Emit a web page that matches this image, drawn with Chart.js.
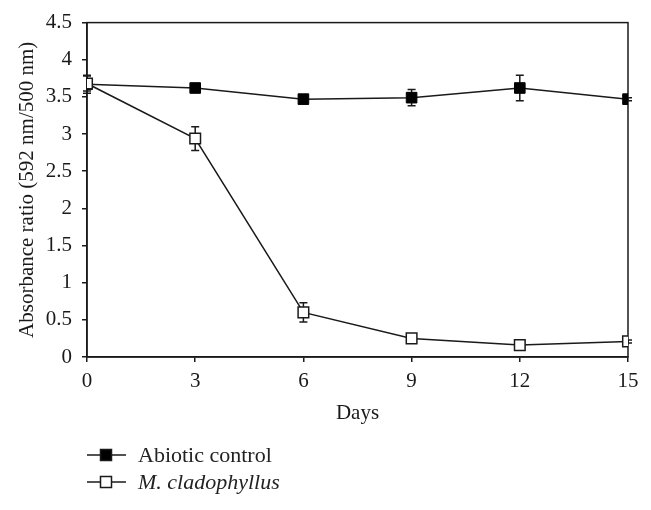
<!DOCTYPE html>
<html>
<head>
<meta charset="utf-8">
<script src="https://cdn.jsdelivr.net/npm/chart.js@4"></script>
<style>
  body { margin: 0; background: #fff; }
  #wrap { position: relative; width: 651px; height: 430px; }
  #legend { position: absolute; left: 87px; top: 441px; font-family: 'Liberation Serif', serif; font-size: 22px; color: #222; }
  .row { height: 27px; display: flex; align-items: center; }
  .row canvas { margin-right: 12px; }
</style>
</head>
<body>
<div id="wrap"><canvas id="days-chart"></canvas></div>
<div id="legend"></div>

<script>
'use strict';

// *************** DATA
let days = [0, 3, 6, 9, 12, 15];
let abioticMean = [3.67, 3.62, 3.47, 3.49, 3.62, 3.47];
let abioticErr = [0.12, 0.05, 0.02, 0.11, 0.17, 0.02];
let cladoMean = [3.68, 2.94, 0.60, 0.25, 0.16, 0.21];
let cladoErr = [0.10, 0.16, 0.13, 0.02, 0.02, 0.02];
let yTicks = [0, 0.5, 1, 1.5, 2, 2.5, 3, 3.5, 4, 4.5];
let seriesNames = ['Abiotic control', 'M. cladophyllus'];

let serif = "'Liberation Serif', 'Times New Roman', serif";
let ink = '#1a1a1a';

function toPoints(vals) {
  let pts = [];
  for (let i = 0; i < days.length; i++) {
    pts.push({ x: days[i], y: vals[i] });
  }
  return pts;
}

// *********** PLUGINS
// error bars drawn through the scales, under the markers
let errorBars = {
  id: 'errorBars',
  beforeDatasetsDraw(chart) {
    let c = chart.ctx;
    let xs = chart.scales.x;
    let ys = chart.scales.y;
    let errs = [abioticErr, cladoErr];
    c.save();
    c.strokeStyle = ink;
    c.lineWidth = 1.5;
    chart.data.datasets.forEach(function (ds, d) {
      ds.data.forEach(function (p, i) {
        let e = errs[d][i];
        let px = xs.getPixelForValue(p.x);
        let top = ys.getPixelForValue(p.y + e);
        let bot = ys.getPixelForValue(p.y - e);
        c.beginPath();
        c.moveTo(px, top); c.lineTo(px, bot);
        c.moveTo(px - 4, top); c.lineTo(px + 4, top);
        c.moveTo(px - 4, bot); c.lineTo(px + 4, bot);
        c.stroke();
      });
    });
    c.restore();
  }
};

// box around the plot area
let plotBox = {
  id: 'plotBox',
  beforeDatasetsDraw(chart) {
    let a = chart.chartArea;
    let c = chart.ctx;
    c.save();
    c.strokeStyle = ink;
    c.lineWidth = 1.5;
    c.strokeRect(a.left, a.top, a.right - a.left, a.bottom - a.top);
    c.restore();
  }
};

let ctx = document.getElementById('days-chart');

new Chart(ctx, { // eslint-disable-line
  type: 'line',
  data: {
    datasets: [{
      label: seriesNames[0],
      data: toPoints(abioticMean),
      borderColor: ink,
      borderWidth: 1.5,
      pointStyle: 'rect',
      pointRadius: 7.5,
      pointBackgroundColor: '#000',
      pointBorderColor: '#000',
      pointBorderWidth: 1,
      order: 2
    },
    {
      label: seriesNames[1],
      data: toPoints(cladoMean),
      borderColor: ink,
      borderWidth: 1.5,
      pointStyle: 'rect',
      pointRadius: 7.5,
      pointBackgroundColor: '#fff',
      pointBorderColor: ink,
      pointBorderWidth: 1.5,
      order: 1
    }]
  },
  options: {
    responsive: true,
    maintainAspectRatio: false,
    animation: false,
    layout: { padding: { top: 22, right: 23, left: 0, bottom: 0 } },
    plugins: {
      legend: { display: false },
      tooltip: { enabled: false }
    },
    scales: {
      x: {
        type: 'linear',
        min: 0,
        max: 15,
        afterBuildTicks(axis) {
          axis.ticks = days.map(function (v) { return { value: v }; });
        },
        grid: { drawOnChartArea: false, drawTicks: true, tickLength: 5, color: ink, lineWidth: 1.5 },
        border: { display: true, color: ink, width: 1.5 },
        ticks: { color: ink, font: { family: serif, size: 21 }, padding: 7, maxRotation: 0 },
        title: { display: true, text: 'Days', color: ink, font: { family: serif, size: 21 }, padding: { top: 8 } },
        afterFit(axis) { axis.height = 73; }
      },
      y: {
        min: 0,
        max: 4.5,
        afterBuildTicks(axis) {
          axis.ticks = yTicks.map(function (v) { return { value: v }; });
        },
        grid: { drawOnChartArea: false, drawTicks: true, tickLength: 5, color: ink, lineWidth: 1.5 },
        border: { display: true, color: ink, width: 1.5 },
        ticks: {
          color: ink,
          font: { family: serif, size: 21 },
          padding: 10,
          callback: function (v) { return String(v); }
        },
        title: { display: true, text: 'Absorbance ratio (592 nm/500 nm)', color: ink, font: { family: serif, size: 21 }, padding: { top: 15, bottom: 4 } },
        afterFit(axis) { axis.width = 87; }
      }
    }
  },
  plugins: [plotBox, errorBars]
});

// *************** LEGEND
let legendBox = document.getElementById('legend');
let fills = ['#000', '#fff'];
for (let i = 0; i < seriesNames.length; i++) {
  let row = document.createElement('div');
  row.className = 'row';
  let mark = document.createElement('canvas');
  mark.width = 39;
  mark.height = 14;
  let m = mark.getContext('2d');
  m.strokeStyle = ink;
  m.lineWidth = 1.5;
  m.beginPath(); m.moveTo(0, 7); m.lineTo(39, 7); m.stroke();
  m.fillStyle = fills[i];
  m.fillRect(13.5, 1.5, 11, 11);
  m.strokeRect(13.5, 1.5, 11, 11);
  let label = document.createElement('span');
  label.textContent = seriesNames[i];
  if (i === 1) { label.style.fontStyle = 'italic'; }
  row.appendChild(mark);
  row.appendChild(label);
  legendBox.appendChild(row);
}
</script>
</body>
</html>
